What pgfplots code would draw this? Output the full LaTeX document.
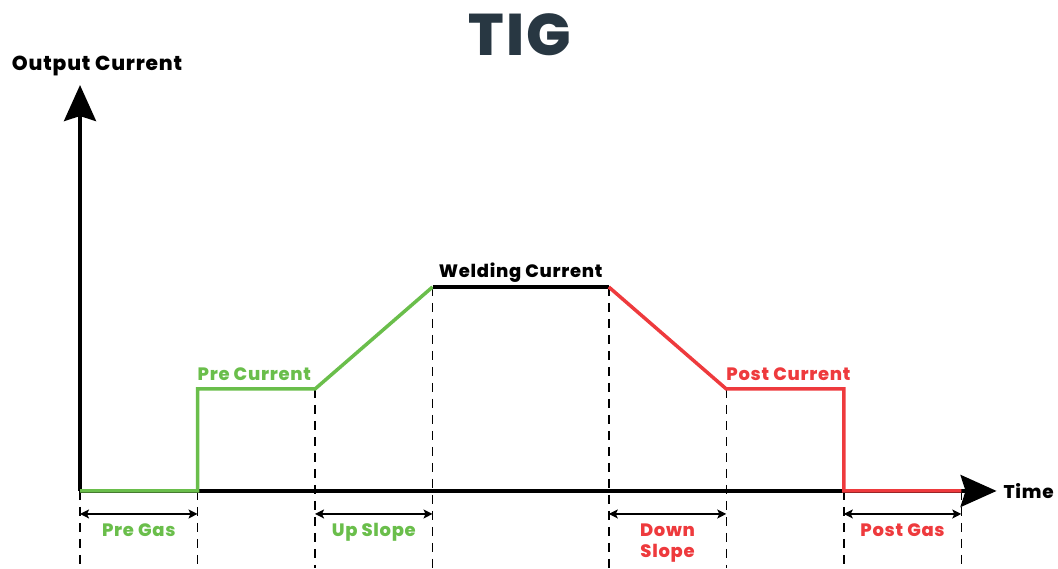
\documentclass[border=0pt]{standalone}
\usepackage{pgfplots}
\pgfplotsset{compat=1.18}
\usepackage{fontspec}
\setmainfont{Poppins}[BoldFont={Poppins ExtraBold}]
\newfontfamily\lbl{Poppins}[BoldFont={Poppins ExtraBold}, LetterSpace=4]
\usetikzlibrary{arrows.meta}
\definecolor{tgreen}{RGB}{106,190,75}
\definecolor{tred}{RGB}{238,58,61}
\definecolor{tslate}{RGB}{40,55,66}
\begin{document}
\begin{tikzpicture}
\begin{axis}[
  scale only axis, width=1058bp, height=568bp,
  xmin=-0.681, xmax=8.323, ymin=-0.755, ymax=4.814,
  hide axis, clip=false,
]
\path (rel axis cs:0,0) rectangle (rel axis cs:1,1);
% dashed guides
\addplot[black, line width=1.5bp, dash pattern=on 9bp off 7bp] coordinates {(0,0) (0,-0.755)};
\addplot[black, line width=1.5bp, dash pattern=on 9bp off 7bp] coordinates {(1,0) (1,-0.755)};
\addplot[black, line width=1.5bp, dash pattern=on 9bp off 7bp] coordinates {(2,1) (2,-0.755)};
\addplot[black, line width=1.5bp, dash pattern=on 9bp off 7bp] coordinates {(3,2) (3,-0.755)};
\addplot[black, line width=1.5bp, dash pattern=on 9bp off 7bp] coordinates {(4.5,2) (4.5,-0.755)};
\addplot[black, line width=1.5bp, dash pattern=on 9bp off 7bp] coordinates {(5.5,1) (5.5,-0.755)};
\addplot[black, line width=1.5bp, dash pattern=on 9bp off 7bp] coordinates {(6.5,0) (6.5,-0.755)};
\addplot[black, line width=1.5bp, dash pattern=on 9bp off 7bp] coordinates {(7.5,0) (7.5,-0.755)};
% interval arrows
\addplot[black, line width=1.4bp, {Stealth[length=9bp,width=9bp,inset=2bp]}-{Stealth[length=9bp,width=9bp,inset=2bp]}] coordinates {(0,-0.2255) (1,-0.2255)};
\addplot[black, line width=1.4bp, {Stealth[length=9bp,width=9bp,inset=2bp]}-{Stealth[length=9bp,width=9bp,inset=2bp]}] coordinates {(2,-0.2255) (3,-0.2255)};
\addplot[black, line width=1.4bp, {Stealth[length=9bp,width=9bp,inset=2bp]}-{Stealth[length=9bp,width=9bp,inset=2bp]}] coordinates {(4.5,-0.2255) (5.5,-0.2255)};
\addplot[black, line width=1.4bp, {Stealth[length=9bp,width=9bp,inset=2bp]}-{Stealth[length=9bp,width=9bp,inset=2bp]}] coordinates {(6.5,-0.2255) (7.5,-0.2255)};
% axes
\addplot[black, line width=3.5bp, -{Stealth[length=36bp,width=32bp,inset=5bp]}] coordinates {(0,0) (0,3.98)};
\addplot[black, line width=3.5bp, -{Stealth[length=36bp,width=32bp,inset=5bp]}] coordinates {(0,0) (7.8,0)};
% current profile
\addplot[tgreen, line width=3.5bp] coordinates {(0,0) (1,0) (1,1) (2,1) (3,2)};
\addplot[black, line width=3.5bp] coordinates {(3,2) (4.5,2)};
\addplot[tred, line width=3.5bp] coordinates {(4.5,2) (5.5,1) (6.5,1) (6.5,0) (7.5,0)};
% texts
\node[text=tslate, font=\lbl\fontsize{59}{64}\selectfont\bfseries, anchor=base] at (axis cs:3.745,4.27) {TIG};
\node[font=\lbl\fontsize{20.3}{23}\selectfont\bfseries, anchor=base] at (axis cs:0.145,4.118) {Output Current};
\node[font=\lbl\fontsize{18.5}{22}\selectfont\bfseries, anchor=west] at (axis cs:7.83,0) {Time};
\node[text=tgreen, font=\lbl\fontsize{18}{22}\selectfont\bfseries, anchor=base west, inner sep=0pt] at (axis cs:1.0,1.08) {Pre Current};
\node[font=\lbl\fontsize{18}{22}\selectfont\bfseries, anchor=base, inner sep=0pt] at (axis cs:3.75,2.09) {Welding Current};
\node[text=tred, font=\lbl\fontsize{18}{22}\selectfont\bfseries, anchor=base west, inner sep=0pt] at (axis cs:5.5,1.08) {Post Current};
\node[text=tgreen, font=\lbl\fontsize{18}{22}\selectfont\bfseries, anchor=base, inner sep=0pt] at (axis cs:0.5,-0.45) {Pre Gas};
\node[text=tgreen, font=\lbl\fontsize{18}{22}\selectfont\bfseries, anchor=base, inner sep=0pt] at (axis cs:2.5,-0.45) {Up Slope};
\node[text=tred, font=\lbl\fontsize{18}{22}\selectfont\bfseries, anchor=base, inner sep=0pt] at (axis cs:5,-0.445) {Down};
\node[text=tred, font=\lbl\fontsize{18}{22}\selectfont\bfseries, anchor=base, inner sep=0pt] at (axis cs:5,-0.657) {Slope};
\node[text=tred, font=\lbl\fontsize{18}{22}\selectfont\bfseries, anchor=base, inner sep=0pt] at (axis cs:7,-0.45) {Post Gas};
\end{axis}
\end{tikzpicture}
\end{document}
